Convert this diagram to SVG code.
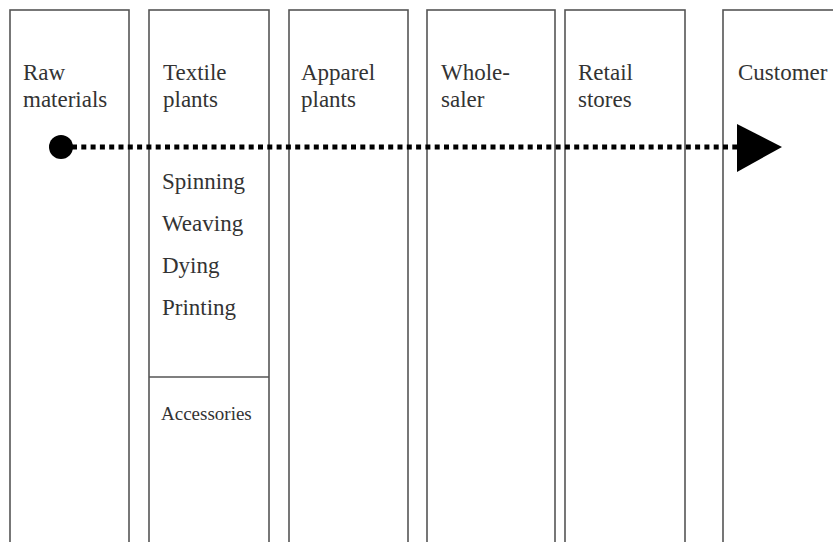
<svg xmlns="http://www.w3.org/2000/svg" width="833" height="542" viewBox="0 0 833 542">
  <style>
    .col { fill: #ffffff; stroke: #555555; stroke-width: 1.6; }
    .lbl { font-family: "Liberation Serif", "Times New Roman", serif; font-size: 23px; fill: #333333; }
    .sm { font-size: 19px; }
    .flow { stroke: #000000; stroke-width: 5; stroke-dasharray: 5 4.3; fill: none; }
  </style>
  <rect width="833" height="542" fill="#ffffff"/>

  <g id="raw-materials">
    <rect class="col" x="10" y="10" width="119" height="560"/>
    <text class="lbl" x="23" y="80">Raw</text>
    <text class="lbl" x="23" y="107">materials</text>
  </g>

  <g id="textile-plants">
    <rect class="col" x="149" y="10" width="120" height="560"/>
    <line class="col" x1="149" y1="377" x2="269" y2="377"/>
    <text class="lbl" x="163" y="80">Textile</text>
    <text class="lbl" x="163" y="107">plants</text>
    <text class="lbl" x="162" y="189">Spinning</text>
    <text class="lbl" x="162" y="231">Weaving</text>
    <text class="lbl" x="162" y="273">Dying</text>
    <text class="lbl" x="162" y="315">Printing</text>
    <text class="lbl sm" x="161" y="420">Accessories</text>
  </g>

  <g id="apparel-plants">
    <rect class="col" x="289" y="10" width="119" height="560"/>
    <text class="lbl" x="301" y="80">Apparel</text>
    <text class="lbl" x="301" y="107">plants</text>
  </g>

  <g id="wholesaler">
    <rect class="col" x="427" y="10" width="128" height="560"/>
    <text class="lbl" x="441" y="80">Whole-</text>
    <text class="lbl" x="441" y="107">saler</text>
  </g>

  <g id="retail-stores">
    <rect class="col" x="565" y="10" width="120" height="560"/>
    <text class="lbl" x="578" y="80">Retail</text>
    <text class="lbl" x="578" y="107">stores</text>
  </g>

  <g id="customer">
    <rect class="col" x="723" y="10" width="140" height="560"/>
    <text class="lbl" x="738" y="80">Customer</text>
  </g>

  <g id="connectors">
    <circle cx="61" cy="147" r="12" fill="#000000"/>
    <line class="flow" x1="72" y1="147" x2="738" y2="147"/>
    <polygon points="737,124 782,147 737,172" fill="#000000"/>
  </g>
</svg>
